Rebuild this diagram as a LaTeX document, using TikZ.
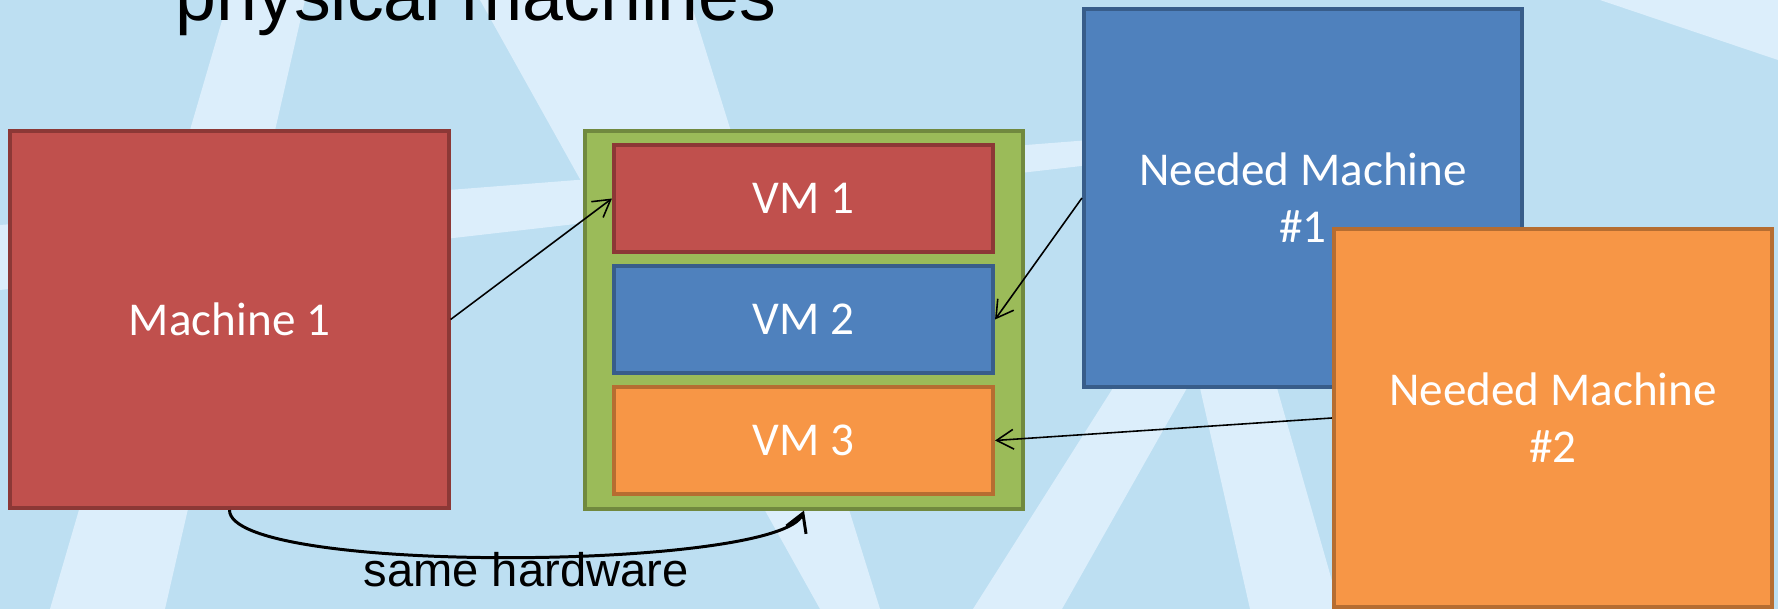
\documentclass[tikz,border=0pt]{standalone}
\usepackage{fontspec}
\setmainfont{Carlito}
\newfontfamily\arialfont{Liberation Sans}
\usetikzlibrary{arrows.meta}

\definecolor{redfill}{HTML}{C0504D}
\definecolor{redline}{HTML}{8C3836}
\definecolor{bluefill}{HTML}{4F81BD}
\definecolor{blueline}{HTML}{385D8A}
\definecolor{orangefill}{HTML}{F79646}
\definecolor{orangeline}{HTML}{B66D31}
\definecolor{greenfill}{HTML}{9BBB59}
\definecolor{greenline}{HTML}{71893F}
\definecolor{bgblue}{HTML}{BDDFF2}
\definecolor{bglight}{HTML}{DCEEFB}

\tikzset{
  box/.style={rectangle, line width=1.1pt, text=white, inner sep=0pt,
    align=center, font=\fontsize{13.4}{16.2}\selectfont},
  machine/.style={box, minimum width=4.38cm, minimum height=3.77cm},
  vm/.style={box, minimum width=3.79cm, minimum height=1.07cm},
  link/.style={-{Straight Barb[length=4.8pt,width=5.6pt]}, line width=0.45pt},
  hwlink/.style={-{Straight Barb[length=5.1pt,width=6pt]}, line width=0.85pt},
  plain/.style={inner sep=0pt, text=black}
}

\begin{document}
\begin{tikzpicture}[x=0.01cm, y=-0.01cm]
    \clip (0,0) rectangle (1778,609);
    \fill[bgblue] (0,0) rectangle (1778,609);
    % lighter streaks in the background
    \fill[bglight] (228,0) -- (305,0) -- (165,609) -- (50,609) -- cycle;
    \fill[bglight] (480,0) -- (690,0) -- (880,609) -- (820,609) -- cycle;
    \fill[bglight] (0,225) -- (1090,140) -- (1090,165) -- (0,290) -- cycle;
    \fill[bglight] (1113,388) -- (1187,388) -- (1062,609) -- (973,609) -- cycle;
    \fill[bglight] (1200,388) -- (1277,388) -- (1340,609) -- (1250,609) -- cycle;
    \fill[bglight] (1600,0) -- (1778,0) -- (1778,60) -- cycle;

    \node[plain, anchor=base west, font=\arialfont\fontsize{20.9}{25}\selectfont]
        (title) at (175,21) {physical machines};

    \node[machine, fill=redfill, draw=redline] (m1) at (229.5,319.5) {Machine 1};
    \node[machine, fill=greenfill, draw=greenline] (host) at (804,320) {};
    \node[vm, fill=redfill, draw=redline] (vm1) at (803.5,198.5) {VM 1};
    \node[vm, fill=bluefill, draw=blueline] (vm2) at (803.5,319.5) {VM 2};
    \node[vm, fill=orangefill, draw=orangeline] (vm3) at (803.5,440.5) {VM 3};
    \node[machine, fill=bluefill, draw=blueline] (need1) at (1303,198)
        {Needed Machine\\\#1};
    \node[machine, fill=orangefill, draw=orangeline] (need2) at (1553,418)
        {Needed Machine\\\#2};

    \draw[link] (m1.east) -- (vm1.west);
    \draw[link] (need1.west) -- (vm2.east);
    \draw[link] (need2.west) -- (vm3.east);

    \draw[hwlink] (m1.south) .. controls +(0,65) and +(-24,60) .. (host.south);
    \node[plain, anchor=base west, font=\arialfont\fontsize{13.4}{16}\selectfont]
        (hwlabel) at (363,586) {same hardware};
\end{tikzpicture}
\end{document}
